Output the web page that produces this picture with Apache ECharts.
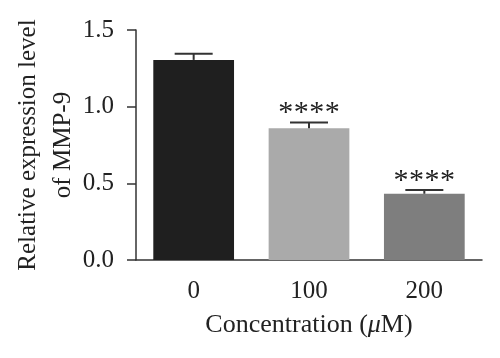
<!DOCTYPE html>
<html>
<head>
<meta charset="utf-8">
<style>html,body{margin:0;padding:0;background:#fff}#chart{width:500px;height:358px}</style>
<script src="https://cdn.jsdelivr.net/npm/echarts@6/dist/echarts.min.js"></script>
</head>
<body>
<div id="chart"></div>
<script>
const categories = ['0', '100', '200'];
const values = [1.305, 0.86, 0.432];
const errors = [0.04, 0.036, 0.025];
const significance = ['', '****', '****'];
const barColors = ['#1f1f1f', '#aaaaaa', '#7e7e7e'];
const yTicks = [0, 0.5, 1.0, 1.5];

const FONT = 'Liberation Serif';
const chart = echarts.init(document.getElementById('chart'));

const errData = categories.map((c, i) => [i, values[i], errors[i]]);

chart.setOption({
  animation: false,
  grid: { left: 136, right: 18, top: 30, bottom: 98, containLabel: false, outerBoundsMode: 'none' },
  xAxis: {
    type: 'category',
    data: categories,
    axisLine: { lineStyle: { color: '#333', width: 1.5 } },
    axisTick: { length: 8, alignWithLabel: true, lineStyle: { color: '#333', width: 1.5 } },
    axisLabel: { color: '#222', fontFamily: FONT, fontSize: 25, margin: 19 },
    name: '{a|Concentration (}{b|μ}{a|M)}',
    nameLocation: 'middle',
    nameGap: 52,
    nameMoveOverlap: false,
    nameTextStyle: {
      rich: {
        a: { fontFamily: FONT, fontSize: 26, color: '#222' },
        b: { fontFamily: FONT, fontSize: 26, fontStyle: 'italic', color: '#222' }
      }
    }
  },
  yAxis: {
    type: 'value',
    min: yTicks[0],
    max: yTicks[yTicks.length - 1],
    interval: 0.5,
    splitLine: { show: false },
    axisLine: { show: true, lineStyle: { color: '#333', width: 1.5 } },
    axisTick: { show: true, length: 9, lineStyle: { color: '#333', width: 1.5 } },
    axisLabel: { color: '#222', fontFamily: FONT, fontSize: 25, margin: 22, formatter: v => v.toFixed(1) },
    name: 'Relative expression level\nof MMP-9',
    nameLocation: 'middle',
    nameGap: 55,
    nameMoveOverlap: false,
    nameTextStyle: { fontFamily: FONT, fontSize: 25, color: '#222', lineHeight: 35 }
  },
  series: [
    {
      type: 'bar',
      barWidth: '70%',
      data: values.map((v, i) => ({ value: v, itemStyle: { color: barColors[i] } }))
    },
    {
      type: 'custom',
      data: errData,
      encode: { x: 0, y: 1 },
      z: 5,
      renderItem: function (params, api) {
        const i = api.value(0);
        const v = api.value(1);
        const e = api.value(2);
        const top = api.coord([i, v]);
        const errTop = api.coord([i, v + e]);
        const half = 19;
        const style = { stroke: '#333', lineWidth: 2 };
        const children = [
          { type: 'line', shape: { x1: top[0], y1: top[1], x2: errTop[0], y2: errTop[1] }, style: style },
          { type: 'line', shape: { x1: errTop[0] - half, y1: errTop[1], x2: errTop[0] + half, y2: errTop[1] }, style: style }
        ];
        const s = significance[params.dataIndex];
        const n = s.length;
        const step = 15.5;
        for (let k = 0; k < n; k++) {
          children.push({
            type: 'text',
            style: {
              text: s[k], x: errTop[0] + (k - (n - 1) / 2) * step, y: errTop[1] + 6,
              align: 'center', verticalAlign: 'bottom',
              font: '30px "Liberation Serif"', fill: '#222'
            }
          });
        }
        return { type: 'group', children: children };
      }
    }
  ]
});
</script>
</body>
</html>
